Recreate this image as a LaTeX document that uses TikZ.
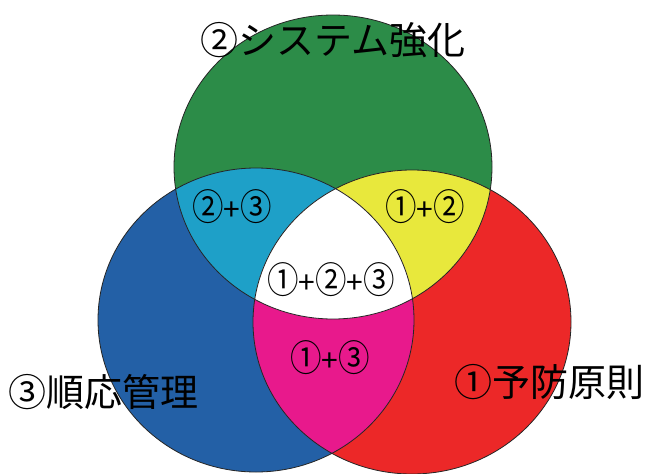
\documentclass[tikz,border=0pt]{standalone}
\usepackage{fontspec}
\setmainfont{Noto Sans CJK JP}
\definecolor{cgreen}{RGB}{44,140,72}
\definecolor{cblue}{RGB}{35,96,166}
\definecolor{cred}{RGB}{236,40,40}
\definecolor{ccyan}{RGB}{30,160,200}
\definecolor{cyellow}{RGB}{232,232,60}
\definecolor{cmag}{RGB}{232,25,140}
\newcommand\cdg[1]{\scalebox{1.05}[1.22]{#1}}
\begin{document}
\begin{tikzpicture}[x=1pt,y=-1pt,
  outline/.style={draw=black!85,line width=0.8pt},
  biglabel/.style={font=\fontsize{38}{40}\selectfont,inner sep=0pt},
  reglabel/.style={font=\fontsize{30}{32}\selectfont,inner sep=0pt}]
\useasboundingbox (0,0) rectangle (654,474);
\fill[white] (0,0) rectangle (654,474);
\def\pG{(333,167) ellipse [x radius=159pt, y radius=152pt]}
\def\pB{(256,320) ellipse [x radius=158pt, y radius=152pt]}
\def\pR{(412,322) ellipse [x radius=159pt, y radius=152pt]}
\fill[cgreen] \pG;
\fill[cblue] \pB;
\fill[cred] \pR;
\begin{scope}\clip \pG; \fill[ccyan] \pB; \end{scope}
\begin{scope}\clip \pG; \fill[cyellow] \pR; \end{scope}
\begin{scope}\clip \pB; \fill[cmag] \pR; \end{scope}
\begin{scope}\clip \pG; \clip \pB; \fill[white] \pR; \end{scope}
\draw[outline] \pG;
\draw[outline] \pB;
\draw[outline] \pR;
\node[biglabel] (sys) at (333,40) {②システム強化};
\node[biglabel] (jun) at (104,392) {③順応管理};
\node[biglabel] (yob) at (549,382) {①予防原則};
\node[reglabel] (r23) at (232,207) {\cdg{②}+\cdg{③}};
\node[reglabel] (r12) at (425,207) {\cdg{①}+\cdg{②}};
\node[reglabel] (r123) at (331,280) {\cdg{①}+\cdg{②}+\cdg{③}};
\node[reglabel] (r13) at (330,358) {\cdg{①}+\cdg{③}};
\end{tikzpicture}
\end{document}
